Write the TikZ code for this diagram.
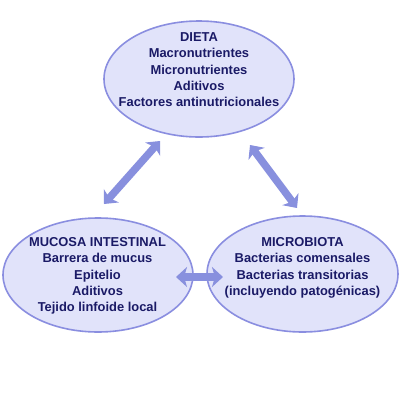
\documentclass[tikz,border=0pt]{standalone}
\usepackage{fontspec}
\setmainfont{Liberation Sans}
\usetikzlibrary{arrows.meta,shapes.geometric}
\definecolor{ellfill}{HTML}{E1E3FA}
\definecolor{ellline}{HTML}{8A8EE0}
\definecolor{arrcol}{HTML}{8890DE}
\definecolor{txtcol}{HTML}{1A1A66}
\tikzset{
  bubble/.style={ellipse, draw=ellline, fill=ellfill, line width=1.6pt, inner sep=0pt},
  label text/.style={anchor=north, inner sep=0pt, align=center, text=txtcol,
    font=\fontsize{12.9}{16.3}\selectfont\bfseries},
  dblarrow/.style={draw=arrcol, line width=7.5pt,
    {Stealth[length=11pt,width=20pt,inset=3pt]}-{Stealth[length=11pt,width=20pt,inset=3pt]}}
}
\begin{document}
\begin{tikzpicture}[x=1pt,y=-1pt]
\useasboundingbox[fill=white] (0,0) rectangle (400,400);
\node[bubble, minimum width=190pt, minimum height=116pt] (dieta) at (199,79) {};
\node[bubble, minimum width=190pt, minimum height=114pt] (mucosa) at (98,275) {};
\node[bubble, minimum width=191pt, minimum height=116pt] (micro) at (302.5,274) {};
\node[label text] (tdieta) at (199,32.4) {DIETA\\Macronutrientes\\Micronutrientes\\Aditivos\\Factores antinutricionales};
\node[label text] (tmucosa) at (97.5,237.4) {MUCOSA INTESTINAL\\Barrera de mucus\\Epitelio\\Aditivos\\Tejido linfoide local};
\node[label text] (tmicro) at (302.5,237.4) {MICROBIOTA\\Bacterias comensales\\Bacterias transitorias\\(incluyendo patogénicas)};
\coordinate (a1) at (160,141);
\coordinate (a2) at (104,204);
\coordinate (b1) at (250,145);
\coordinate (b2) at (297,208);
\coordinate (c1) at (176,277);
\coordinate (c2) at (223,277);
\draw[dblarrow] (a1) -- (a2);
\draw[dblarrow] (b1) -- (b2);
\draw[dblarrow] (c1) -- (c2);
\end{tikzpicture}
\end{document}
